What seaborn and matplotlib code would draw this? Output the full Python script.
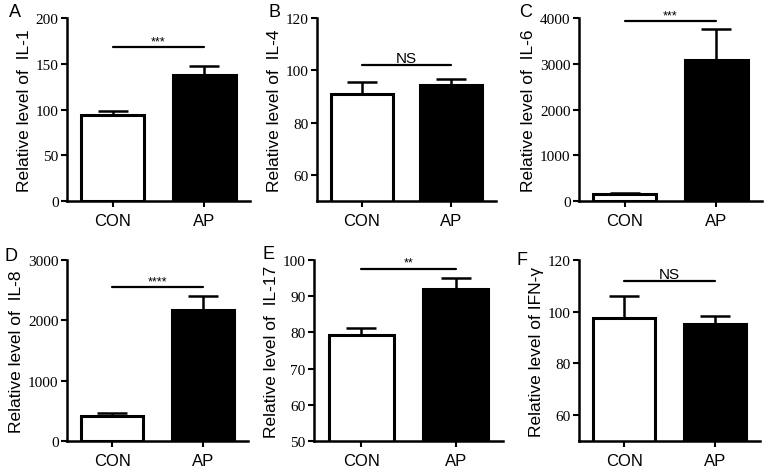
import numpy as np
import pandas as pd
import matplotlib
matplotlib.use("Agg")
import matplotlib.pyplot as plt
import seaborn as sns

# data (mean, upper error)
groups = ["CON", "AP"]
panel_letters = ["A", "B", "C", "D", "E", "F"]
ylabels = ["Relative level of  IL-1", "Relative level of  IL-4", "Relative level of  IL-6",
           "Relative level of  IL-8", "Relative level of  IL-17", "Relative level of IFN-\u03b3"]
means = [[94, 138], [91, 94.3], [150, 3080], [410, 2175], [79.2, 91.9], [97.7, 95.1]]
errs = [[4, 10], [4.5, 2.5], [15, 670], [55, 230], [2.1, 3.2], [8.4, 3.3]]
sig_y = [168, 102, 3930, 2550, 97.6, 111.7]
sig_text = ["***", "NS", "***", "****", "**", "NS"]
ylims = [(0, 200), (50, 120), (0, 4000), (0, 3000), (50, 100), (50, 120)]
yticks = [[0, 50, 100, 150, 200], [60, 80, 100, 120], [0, 1000, 2000, 3000, 4000],
          [0, 1000, 2000, 3000], [50, 60, 70, 80, 90, 100], [60, 80, 100, 120]]

sns.set_style("ticks")
plt.rcParams['font.family'] = ['Liberation Sans', 'DejaVu Sans']
plt.rcParams['axes.linewidth'] = 1.8
plt.rcParams['text.color'] = 'black'
plt.rcParams['axes.labelcolor'] = 'black'
plt.rcParams['xtick.color'] = 'black'
plt.rcParams['ytick.color'] = 'black'
plt.rcParams['axes.edgecolor'] = 'black'

fig = plt.figure(figsize=(7.68, 4.77), dpi=100)

# axes boxes in pixels: left, right, top, bottom
boxes = [(67, 250, 19, 202), (317, 496, 19, 202), (579, 762, 19, 202),
         (67, 248, 261, 442), (314, 503, 261, 442), (579, 760, 261, 442)]
letter_pos = [(9, 4), (268, 4), (519, 4), (4, 248), (262, 246), (516, 252)]

for i in range(6):
    l, r, t, b = boxes[i]
    ax = fig.add_axes([l / 768, 1 - b / 477, (r - l) / 768, (b - t) / 477])
    df = pd.DataFrame({"group": groups, "value": means[i]})
    sns.barplot(data=df, x="group", y="value", hue="group", palette=["white", "black"],
                edgecolor="black", linewidth=2.2, width=0.69, legend=False, ax=ax)
    ax.errorbar(range(2), means[i], yerr=[[0, 0], errs[i]], fmt="none",
                ecolor="black", elinewidth=1.8, capsize=11, capthick=1.8, zorder=1)
    ax.set_xlim(-0.5, 1.5)
    ax.set_ylim(*ylims[i])
    ax.set_yticks(yticks[i])
    ax.set_yticklabels([str(v) for v in yticks[i]], family="Liberation Serif", fontsize=11)
    ax.set_xticks([0, 1])
    ax.set_xticklabels(groups, fontsize=12)
    ax.tick_params(axis="both", direction="out", length=4, width=1.5, pad=2)
    ax.tick_params(axis="x", pad=5)
    ax.set_xlabel("")
    ax.set_ylabel(ylabels[i], fontsize=12.5, labelpad=3)
    sns.despine(ax=ax)
    # significance bar
    ax.plot([0, 1], [sig_y[i], sig_y[i]], color="black", lw=1.6, clip_on=False)
    fs = 11 if sig_text[i] == "NS" else 9
    ax.text(0.5, sig_y[i], sig_text[i], ha="center", va="bottom", fontsize=fs)
    fig.text(letter_pos[i][0] / 768, 1 - letter_pos[i][1] / 477, panel_letters[i],
             ha="left", va="top", fontsize=13)

plt.savefig("out.png", dpi=100)
